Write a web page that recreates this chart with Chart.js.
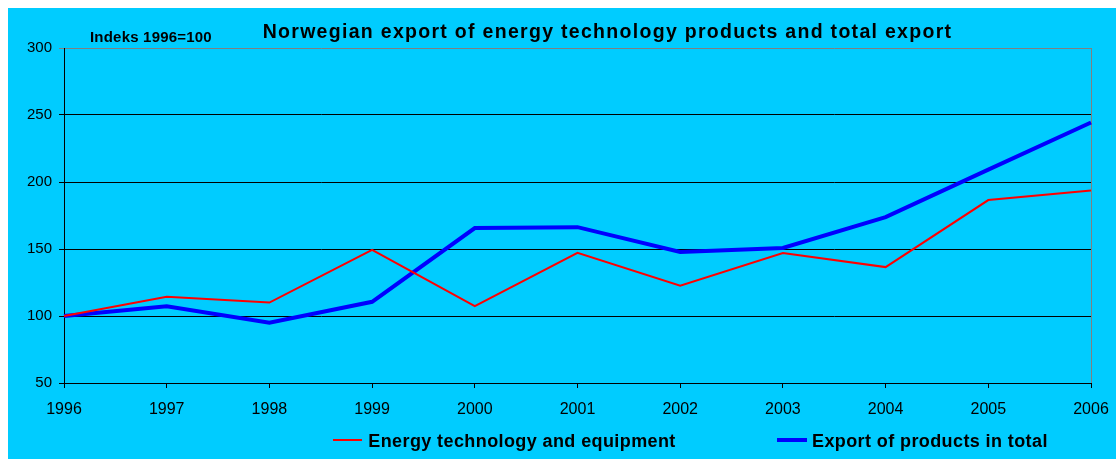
<!DOCTYPE html>
<html>
<head>
<meta charset="utf-8">
<script src="https://cdn.jsdelivr.net/npm/chart.js@4/dist/chart.umd.min.js"></script>
<style>
  html, body { margin: 0; padding: 0; background: #ffffff; }
  #wrap { position: absolute; left: 8px; top: 8px; width: 1108px; height: 451px; }
  canvas { display: block; }
</style>
</head>
<body>
<div id="wrap"><canvas id="c" width="1108" height="451"></canvas></div>
<script>
const years = ['1996','1997','1998','1999','2000','2001','2002','2003','2004','2005','2006'];
const energyTech = [100, 114.3, 110, 149.3, 107.4, 147.2, 122.7, 147, 136.5, 186.5, 193.6];
const exportTotal = [100, 107.3, 94.9, 110.6, 165.6, 166.3, 147.8, 150.8, 173.8, 209.2, 244.4];
const yTicks = [50, 100, 150, 200, 250, 300];
const titleText = 'Norwegian export of energy technology products and total export';
const indexNote = 'Indeks 1996=100';
const seriesNames = ['Energy technology and equipment', 'Export of products in total'];

const FONT = '"Liberation Sans", Arial, Helvetica, sans-serif';

const decor = {
  id: 'decor',
  beforeDraw(chart) {
    const ctx = chart.ctx;
    ctx.save();
    ctx.fillStyle = '#00CCFF';
    ctx.fillRect(0, 0, chart.width, chart.height);
    ctx.restore();
  },
  beforeDatasetsDraw(chart) {
    const ctx = chart.ctx, a = chart.chartArea;
    ctx.save();
    ctx.strokeStyle = '#808080';
    ctx.lineWidth = 1;
    ctx.beginPath();
    ctx.moveTo(Math.round(a.right) + 0.5, a.top);
    ctx.lineTo(Math.round(a.right) + 0.5, a.bottom);
    ctx.stroke();
    ctx.restore();
  },
  afterDraw(chart) {
    const ctx = chart.ctx;
    ctx.save();
    ctx.fillStyle = '#000000';
    ctx.textBaseline = 'alphabetic';
    // title
    ctx.font = 'bold 19.5px ' + FONT;
    ctx.letterSpacing = '1.3px';
    const tw = ctx.measureText(titleText).width;
    ctx.textAlign = 'left';
    ctx.fillText(titleText, 599.5 - tw / 2, 30.3);
    // index note
    ctx.font = 'bold 15px ' + FONT;
    ctx.letterSpacing = '0.2px';
    ctx.fillText(indexNote, 82, 33.7);
    // legend
    const ds = chart.data.datasets;
    const items = [
      { x0: 325, x1: 354, tx: 360.3, lw: 2 },
      { x0: 769, x1: 799, tx: 804, lw: 4 }
    ];
    ctx.font = 'bold 18px ' + FONT;
    ctx.letterSpacing = '0.4px';
    items.forEach((it, i) => {
      ctx.strokeStyle = ds[i].borderColor;
      ctx.lineWidth = it.lw;
      ctx.beginPath();
      ctx.moveTo(it.x0, 432);
      ctx.lineTo(it.x1, 432);
      ctx.stroke();
      ctx.fillStyle = '#000000';
      ctx.fillText(ds[i].label, it.tx, 439.3);
    });
    ctx.letterSpacing = '0px';
    ctx.restore();
  }
};

new Chart(document.getElementById('c'), {
  type: 'line',
  data: {
    labels: years,
    datasets: [
      { label: seriesNames[0], data: energyTech, borderColor: '#FF0000', backgroundColor: '#FF0000', borderWidth: 2, pointRadius: 0, tension: 0, fill: false },
      { label: seriesNames[1], data: exportTotal, borderColor: '#0000FF', backgroundColor: '#0000FF', borderWidth: 4, pointRadius: 0, tension: 0, fill: false }
    ]
  },
  options: {
    responsive: false,
    animation: false,
    devicePixelRatio: 1,
    layout: { padding: { top: 40, right: 25, bottom: 0, left: 0 } },
    plugins: { legend: { display: false }, title: { display: false }, tooltip: { enabled: false } },
    scales: {
      x: {
        type: 'category',
        offset: false,
        grid: { drawOnChartArea: false, drawTicks: true, tickLength: 5, color: '#000000', lineWidth: 1 },
        border: { display: true, color: '#000000', width: 1 },
        ticks: { color: '#000000', font: { family: FONT, size: 16 }, padding: 12, maxRotation: 0, autoSkip: false },
        afterFit(scale) { scale.height = 76; scale.paddingRight = 0; scale.paddingLeft = 0; }
      },
      y: {
        min: 50, max: 300,
        afterBuildTicks(scale) { scale.ticks = yTicks.map(v => ({ value: v })); },
        grid: {
          color: (c) => (c.tick && c.tick.value === 300) ? '#808080' : '#000000',
          lineWidth: 1, drawTicks: true, tickLength: 5
        },
        border: { display: true, color: '#000000', width: 1 },
        ticks: { color: '#000000', font: { family: FONT, size: 15 }, padding: 7 },
        afterFit(scale) { scale.width = 56; scale.paddingTop = 0; scale.paddingBottom = 0; }
      }
    }
  },
  plugins: [decor]
});
</script>
</body>
</html>
